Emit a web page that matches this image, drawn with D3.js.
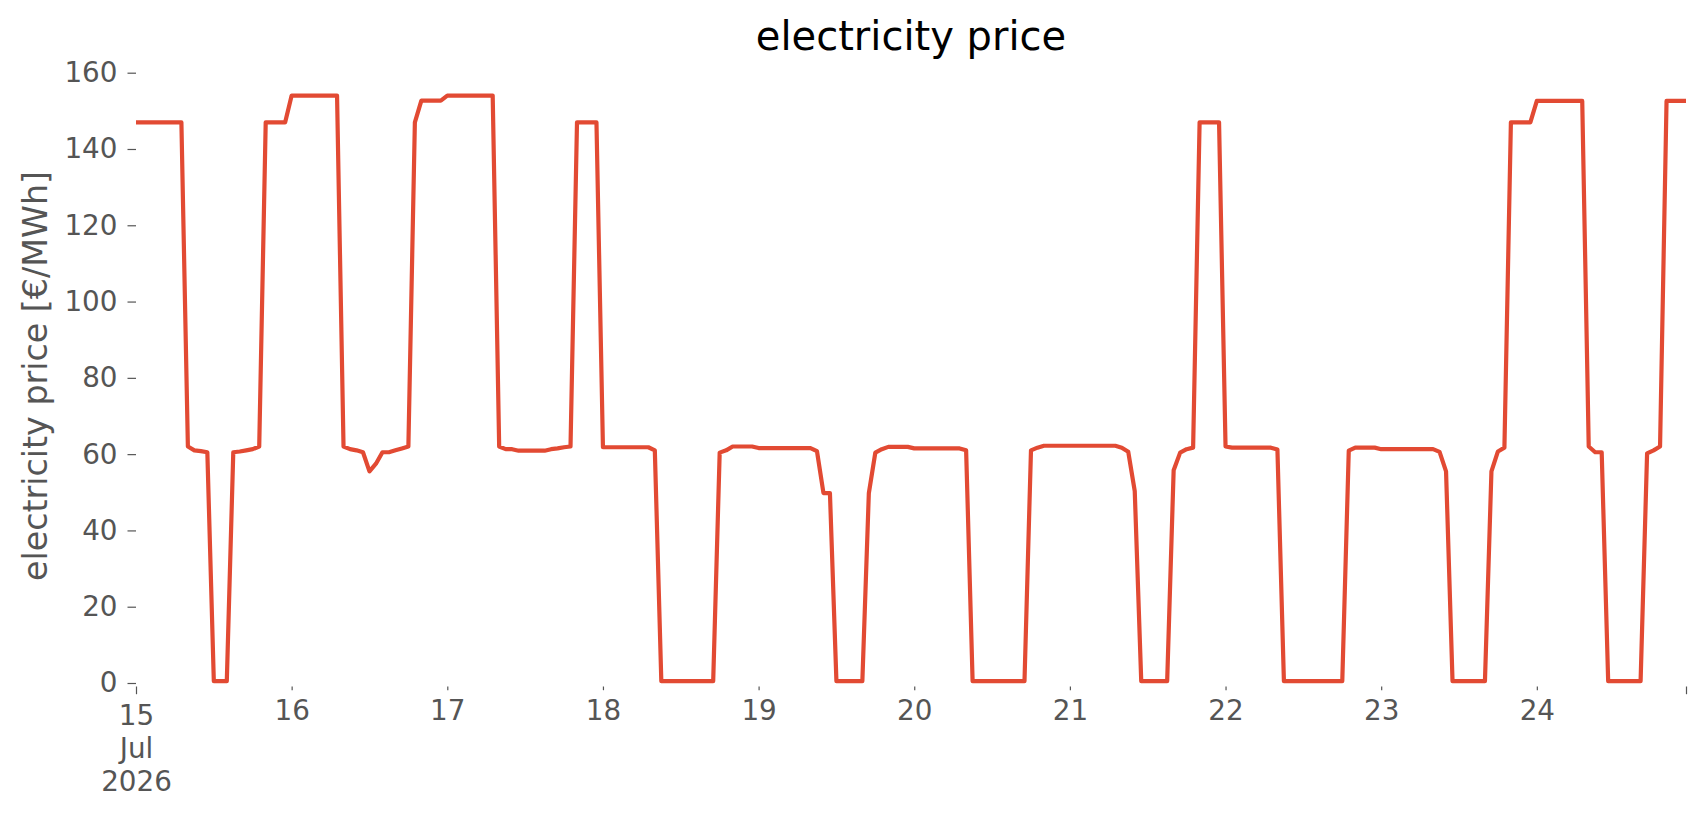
<!DOCTYPE html>
<html>
<head>
<meta charset="utf-8">
<script src="https://cdn.jsdelivr.net/npm/d3@7"></script>
<style>
  body { margin: 0; background: #fff; }
  svg { display: block; font-family: "DejaVu Sans", sans-serif; }
</style>
</head>
<body>
<svg width="1706" height="815"></svg>
<script>
// hourly day-ahead prices, one array per day (00:00 .. 23:00)
const day15 = [147, 147, 147, 147, 147, 147, 147, 147, 62, 61, 60.8, 60.5, 0.5, 0.5, 0.5, 60.5, 60.7, 61, 61.3, 62, 147, 147, 147, 147];
const day16 = [154, 154, 154, 154, 154, 154, 154, 154, 62, 61.3, 61, 60.5, 55.5, 57.5, 60.5, 60.5, 61, 61.5, 62, 147, 152.7, 152.7, 152.7, 152.7];
const day17 = [154, 154, 154, 154, 154, 154, 154, 154, 62, 61.3, 61.3, 60.9, 60.9, 60.9, 60.9, 60.9, 61.3, 61.5, 61.8, 62, 147, 147, 147, 147];
const day18 = [61.8, 61.8, 61.8, 61.8, 61.8, 61.8, 61.8, 61.8, 61, 0.5, 0.5, 0.5, 0.5, 0.5, 0.5, 0.5, 0.5, 0.5, 60.4, 61, 62, 62, 62, 62];
const day19 = [61.6, 61.6, 61.6, 61.6, 61.6, 61.6, 61.6, 61.6, 61.6, 60.8, 49.8, 49.8, 0.5, 0.5, 0.5, 0.5, 0.5, 49.8, 60.4, 61.3, 61.9, 61.9, 61.9, 61.9];
const day20 = [61.5, 61.5, 61.5, 61.5, 61.5, 61.5, 61.5, 61.5, 61, 0.5, 0.5, 0.5, 0.5, 0.5, 0.5, 0.5, 0.5, 0.5, 61, 61.7, 62.2, 62.2, 62.2, 62.2];
const day21 = [62.2, 62.2, 62.2, 62.2, 62.2, 62.2, 62.2, 62.2, 61.7, 60.6, 50.3, 0.5, 0.5, 0.5, 0.5, 0.5, 55.8, 60.4, 61.3, 61.7, 147, 147, 147, 147];
const day22 = [62, 61.7, 61.7, 61.7, 61.7, 61.7, 61.7, 61.7, 61.2, 0.5, 0.5, 0.5, 0.5, 0.5, 0.5, 0.5, 0.5, 0.5, 0.5, 60.9, 61.7, 61.7, 61.7, 61.7];
const day23 = [61.3, 61.3, 61.3, 61.3, 61.3, 61.3, 61.3, 61.3, 61.3, 60.6, 55.5, 0.5, 0.5, 0.5, 0.5, 0.5, 0.5, 55.5, 60.7, 61.7, 147, 147, 147, 147];
const day24 = [152.6, 152.6, 152.6, 152.6, 152.6, 152.6, 152.6, 152.6, 62, 60.5, 60.5, 0.5, 0.5, 0.5, 0.5, 0.5, 0.5, 60.2, 61, 62, 152.6, 152.6, 152.6, 152.6];

const prices = [].concat(day15, day16, day17, day18, day19, day20, day21, day22, day23, day24);

const yTicks = [0, 20, 40, 60, 80, 100, 120, 140, 160];
const dayLabels = ['15', '16', '17', '18', '19', '20', '21', '22', '23', '24'];
const firstLabel = ['15', 'Jul', '2026'];

const title = 'electricity price';
const yTitle = 'electricity price [€/MWh]';

const width = 1706;
const height = 815;
const hour = 3600 * 1000;
const start = Date.UTC(2026, 6, 15);

const data = prices.map((v, i) => ({ t: new Date(start + i * hour), v }));

const svg = d3.select('svg')
  .attr('viewBox', [0, 0, width, height]);

const x = d3.scaleUtc()
  .domain([data[0].t, data[data.length - 1].t])
  .range([136, 1686]);

const y = d3.scaleLinear()
  .domain([0, 160])
  .range([683, 72.7]);

// y axis
const yAxis = svg.append('g')
  .attr('transform', 'translate(136,0)')
  .call(d3.axisLeft(y).tickValues(yTicks).tickSize(8.5).tickPadding(10));

// x axis: day ticks are short (minor), first and last are long (major)
const dayTimes = dayLabels.map((d, i) => new Date(start + i * 24 * hour));

const xMinor = svg.append('g')
  .attr('transform', 'translate(0,686.5)')
  .call(d3.axisBottom(x)
    .tickValues(dayTimes.slice(1))
    .tickSize(3.7)
    .tickPadding(10.1)
    .tickFormat((d, i) => dayLabels[i + 1]));

const xMajor = svg.append('g')
  .attr('transform', 'translate(0,686.5)')
  .call(d3.axisBottom(x)
    .tickValues([dayTimes[0], data[data.length - 1].t])
    .tickSize(7.7)
    .tickPadding(11.1)
    .tickFormat(() => ''));

xMajor.selectAll('.tick text')
  .filter((d, i) => i === 0)
  .selectAll('tspan')
  .data(firstLabel)
  .join('tspan')
  .attr('x', 0)
  .attr('dy', (d, i) => i === 0 ? '0.71em' : '1.18em')
  .text(d => d);
xMajor.selectAll('.tick text').attr('dy', null);

[yAxis, xMinor, xMajor].forEach(g => {
  g.select('.domain').remove();
  g.selectAll('.tick line').attr('stroke', '#555555').attr('stroke-width', 1.2);
  g.selectAll('.tick text')
    .attr('fill', '#555555')
    .style('font-size', '27.8px')
    .style('font-family', '"DejaVu Sans", sans-serif');
});

// price line
const line = d3.line()
  .x(d => x(d.t))
  .y(d => y(d.v));

svg.append('path')
  .datum(data)
  .attr('fill', 'none')
  .attr('stroke', '#E24A33')
  .attr('stroke-width', 4.2)
  .attr('stroke-linejoin', 'round')
  .attr('d', line);

// titles
svg.append('text')
  .attr('x', 911)
  .attr('y', 50)
  .attr('text-anchor', 'middle')
  .style('font-size', '40px')
  .attr('fill', '#000')
  .text(title);

svg.append('text')
  .attr('transform', 'translate(35,376) rotate(-90)')
  .attr('text-anchor', 'middle')
  .attr('dominant-baseline', 'central')
  .style('font-size', '33.3px')
  .attr('fill', '#555555')
  .text(yTitle);
</script>
</body>
</html>
